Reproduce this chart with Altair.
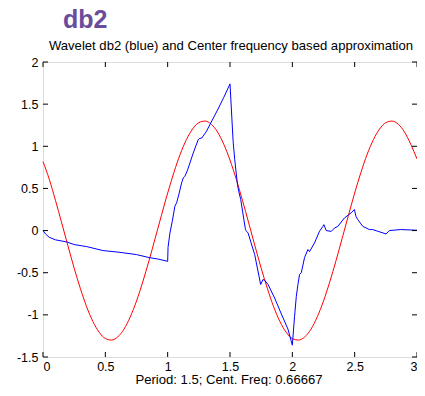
import altair as alt
import pandas as pd

# Red: center-frequency approximation (step 0.05)
red_x = [0.0, 0.05, 0.1, 0.15, 0.2, 0.25, 0.3, 0.35, 0.4, 0.45, 0.5, 0.55, 0.6, 0.65, 0.7, 0.75,
         0.8, 0.85, 0.9, 0.95, 1.0, 1.05, 1.1, 1.15, 1.2, 1.25, 1.3, 1.35, 1.4, 1.45,
         1.5, 1.55, 1.6, 1.65, 1.7, 1.75, 1.8, 1.85, 1.9, 1.95, 2.0, 2.05, 2.1, 2.15, 2.2, 2.25,
         2.3, 2.35, 2.4, 2.45, 2.5, 2.55, 2.6, 2.65, 2.7, 2.75, 2.8, 2.85, 2.9, 2.95, 3.0]
red_y = [0.82, 0.610, 0.359, 0.091, -0.181, -0.445, -0.689, -0.904, -1.078, -1.205, -1.281, -1.299,
         -1.261, -1.169, -1.024, -0.836, -0.610, -0.359, -0.091, 0.181, 0.445, 0.689, 0.904, 1.078,
         1.205, 1.281, 1.299, 1.261, 1.169, 1.024,
         0.836, 0.610, 0.359, 0.091, -0.181, -0.445, -0.689, -0.904, -1.078, -1.205, -1.281, -1.299,
         -1.261, -1.169, -1.024, -0.836, -0.610, -0.359, -0.091, 0.181, 0.445, 0.689, 0.904, 1.078,
         1.205, 1.281, 1.299, 1.261, 1.169, 1.024, 0.85]

# Blue: db2 wavelet
blue_x = [0, 0.02, 0.05, 0.1, 0.19, 0.25, 0.35, 0.48, 0.61, 0.75, 0.85, 0.93, 1.0, 1.003, 1.018,
          1.037, 1.058, 1.072, 1.09, 1.112, 1.125, 1.138, 1.16, 1.178, 1.205, 1.245, 1.253, 1.275,
          1.312, 1.34, 1.4, 1.45, 1.5, 1.525, 1.538, 1.56, 1.57, 1.586, 1.624, 1.632, 1.645, 1.698,
          1.746, 1.765, 1.778, 1.805, 1.858, 1.912, 1.965, 2.0, 2.018, 2.032, 2.045, 2.058, 2.072,
          2.098, 2.125, 2.138, 2.178, 2.218, 2.245, 2.253, 2.272, 2.312, 2.338, 2.365, 2.418, 2.472,
          2.498, 2.51, 2.525, 2.565, 2.618, 2.645, 2.685, 2.752, 2.778, 2.87, 3.0]
blue_y = [0.0, -0.04, -0.08, -0.11, -0.135, -0.166, -0.19, -0.237, -0.257, -0.285, -0.32, -0.34,
          -0.365, -0.2, -0.03, 0.11, 0.29, 0.33, 0.43, 0.566, 0.625, 0.644, 0.72, 0.80, 0.92, 1.079,
          1.09, 1.10, 1.18, 1.26, 1.43, 1.58, 1.74, 1.06, 0.84, 0.546, 0.466, 0.368, 0.012, -0.008,
          -0.028, -0.285, -0.64, -0.58, -0.59, -0.64, -0.80, -0.99, -1.17, -1.36, -1.017, -0.78,
          -0.64, -0.52, -0.50, -0.32, -0.225, -0.25, -0.146, -0.008, 0.05, 0.07, 0.0, -0.01, 0.03,
          0.05, 0.15, 0.21, 0.25, 0.17, 0.13, 0.05, 0.012, 0.012, -0.008, -0.04, 0.0, 0.012, 0.004]

x_ticks = [0, 0.5, 1, 1.5, 2, 2.5, 3]
y_ticks = [-1.5, -1, -0.5, 0, 0.5, 1, 1.5, 2]

main_title = "db2"
sub_title = "Wavelet db2 (blue) and Center frequency based approximation"
x_title = "Period: 1.5; Cent. Freq: 0.66667"

W, H = 374, 295
FONT = "Liberation Sans"

red_df = pd.DataFrame({"x": red_x, "y": red_y})
blue_df = pd.DataFrame({"x": blue_x, "y": blue_y})
xt_df = pd.DataFrame({"v": x_ticks})
yt_df = pd.DataFrame({"v": y_ticks})

xs = alt.Scale(domain=[0, 3], nice=False, zero=False)
ys = alt.Scale(domain=[-1.5, 2], nice=False, zero=False)

xaxis = alt.Axis(values=x_ticks, labelExpr="datum.value + ''", tickSize=0, domain=False,
                 grid=False, labelPadding=3, labelFontSize=12.5, labelFont=FONT,
                 labelColor="black", title=None)
yaxis = alt.Axis(values=y_ticks, labelExpr="datum.value + ''", tickSize=0, domain=False,
                 grid=False, labelPadding=5, labelFontSize=12.5, labelFont=FONT,
                 labelColor="black", title=None)

red = alt.Chart(red_df).mark_line(color="#ff0000", strokeWidth=1, interpolate="monotone").encode(
    x=alt.X("x:Q", scale=xs, axis=xaxis),
    y=alt.Y("y:Q", scale=ys, axis=yaxis),
)
blue = alt.Chart(blue_df).mark_line(color="#0000ff", strokeWidth=1).encode(
    x=alt.X("x:Q", scale=xs),
    y=alt.Y("y:Q", scale=ys),
)

tick_b = alt.Chart(xt_df).mark_rule(color="black", strokeWidth=1).encode(
    x=alt.X("v:Q", scale=xs), y=alt.value(H), y2=alt.value(H - 5))
tick_t = alt.Chart(xt_df).mark_rule(color="black", strokeWidth=1).encode(
    x=alt.X("v:Q", scale=xs), y=alt.value(0), y2=alt.value(5))
tick_l = alt.Chart(yt_df).mark_rule(color="black", strokeWidth=1).encode(
    y=alt.Y("v:Q", scale=ys), x=alt.value(0), x2=alt.value(5))
tick_r = alt.Chart(yt_df).mark_rule(color="black", strokeWidth=1).encode(
    y=alt.Y("v:Q", scale=ys), x=alt.value(W), x2=alt.value(W - 5))

label = alt.Chart(pd.DataFrame({"t": [main_title]})).mark_text(
    align="left", baseline="alphabetic", fontSize=25, fontWeight="bold",
    font=FONT, color="#6a4c9c").encode(
    text="t:N", x=alt.value(20), y=alt.value(-34))

sub = alt.Chart(pd.DataFrame({"t": [sub_title]})).mark_text(
    align="center", baseline="alphabetic", fontSize=13.1,
    font=FONT, color="black").encode(
    text="t:N", x=alt.value(W / 2 + 1), y=alt.value(-12))

xlab = alt.Chart(pd.DataFrame({"t": [x_title]})).mark_text(
    align="center", baseline="alphabetic", fontSize=13.1,
    font=FONT, color="black").encode(
    text="t:N", x=alt.value(W / 2 - 1), y=alt.value(H + 27))

chart = alt.layer(red, blue, tick_b, tick_t, tick_l, tick_r, label, sub, xlab).properties(
    width=W, height=H,
    autosize=alt.AutoSizeParams(type="none"),
    padding={"left": 35, "top": 54, "right": 0, "bottom": 29},
).configure_view(stroke="black", strokeWidth=1.5).configure(background="white")

chart.save("out.html", embed_options={"renderer": "svg", "actions": False})
